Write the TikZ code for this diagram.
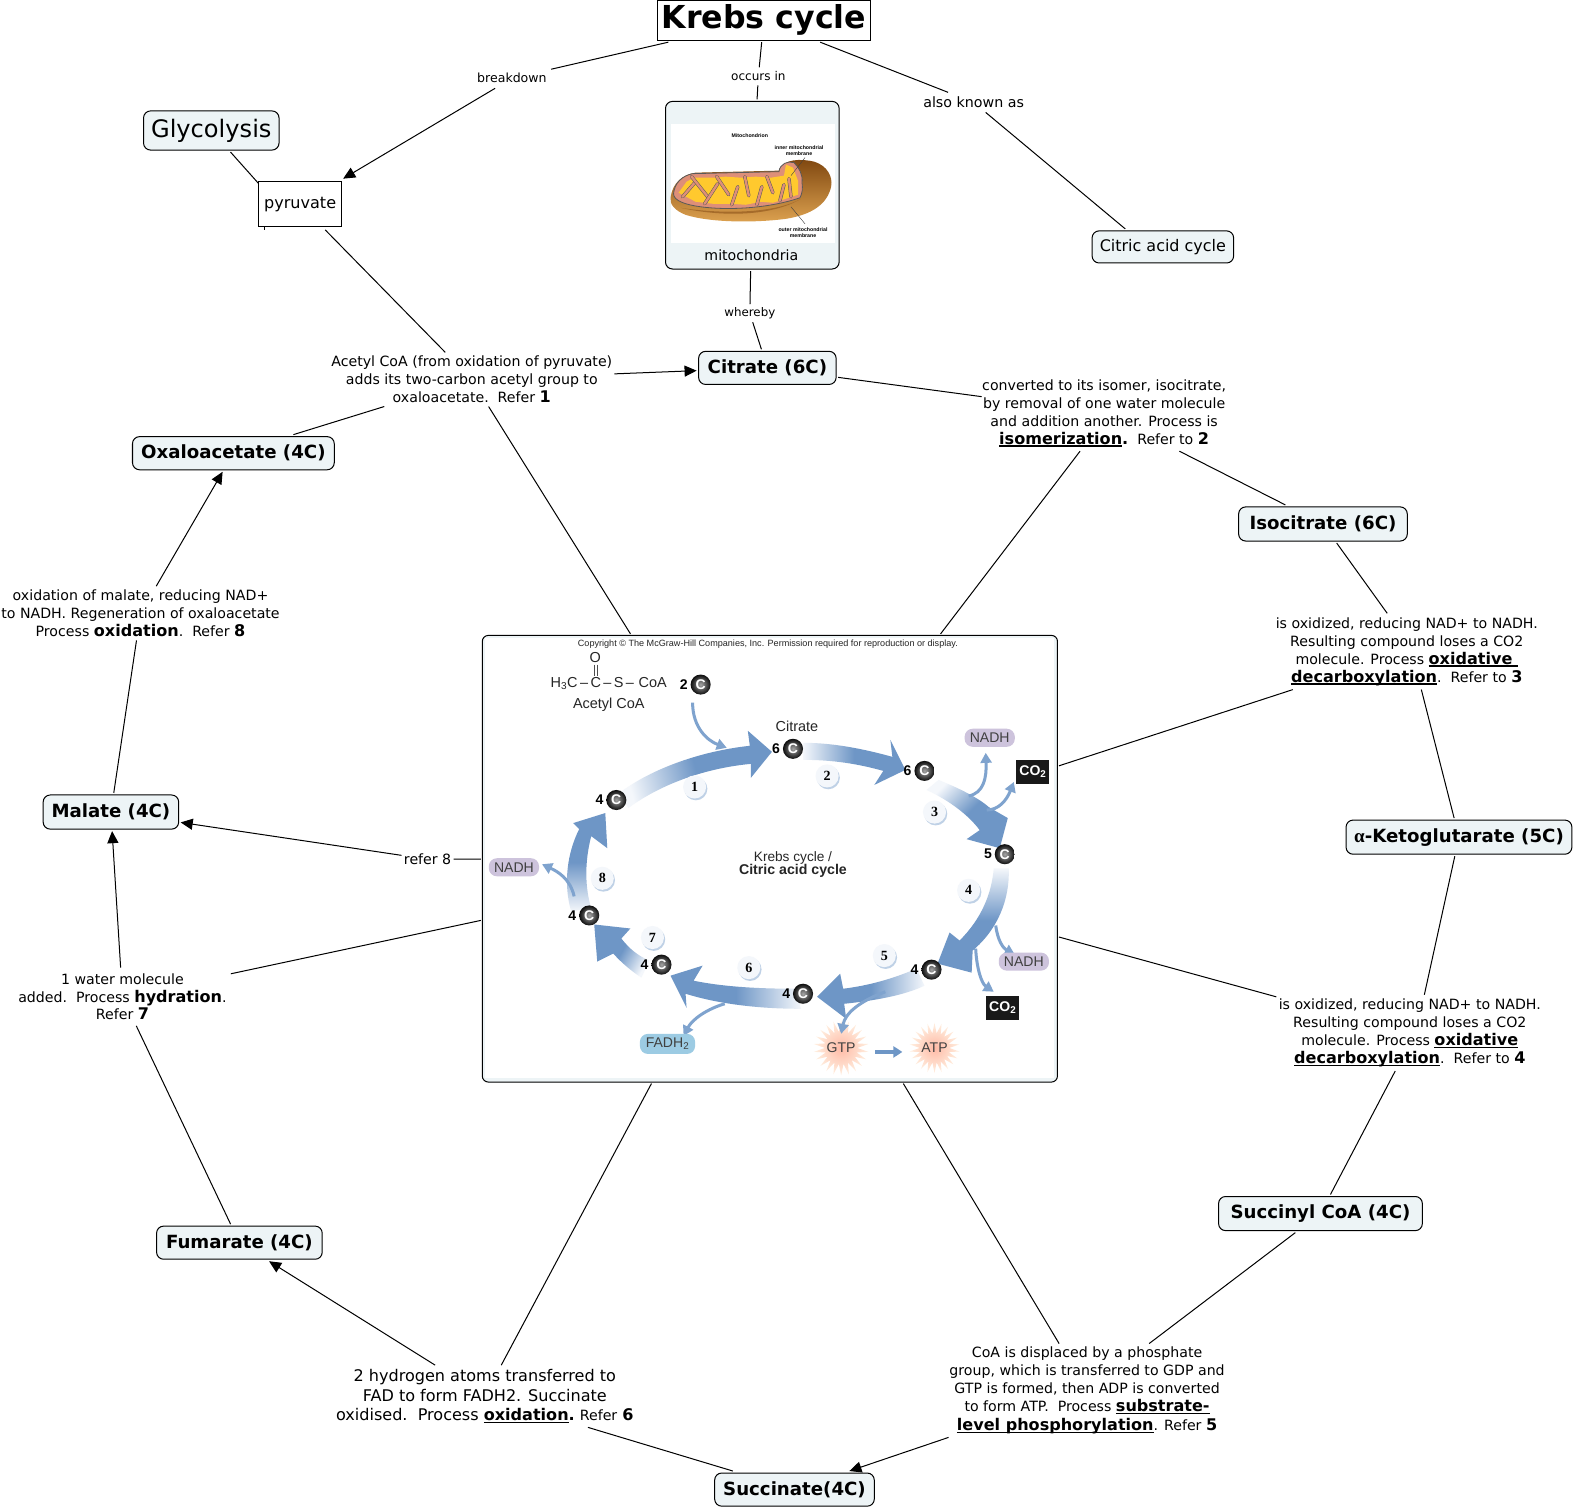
\documentclass[tikz,border=0pt]{standalone}
\usepackage{fontspec}
\setmainfont{DejaVu Sans}
\newfontfamily\arialf{Liberation Sans}
\newfontfamily\timesf{Liberation Serif}
\usetikzlibrary{arrows.meta,shapes.geometric,shadows}
\definecolor{boxfill}{HTML}{EDF4F6}
\definecolor{cycblue}{HTML}{6E96C6}
\definecolor{cycpale}{HTML}{F4F7FB}
\definecolor{thinblue}{HTML}{7FA3CE}
\definecolor{nadhc}{HTML}{CDC3DC}
\definecolor{fadhc}{HTML}{9CCBE3}
\definecolor{mitoY}{HTML}{FFC92E}
\definecolor{mitoS}{HTML}{DE8F78}
\definecolor{mitoB}{HTML}{7F4710}
\definecolor{mitoT}{HTML}{DDA250}
\pgfdeclarehorizontalshading{cycs}{100bp}{color(0bp)=(cycpale); color(25bp)=(cycpale); color(50bp)=(cycblue); color(100bp)=(cycblue)}
\newcommand\fs[2]{\fontsize{#1}{#2}\selectfont}
\newcommand\bt[1]{{\fs{16}{18}\bfseries #1}}
\newcommand\ulx[1]{\setbox0=\hbox{#1}\leavevmode\rlap{\rule[-2.6pt]{\wd0}{1.4pt}}\box0}
\tikzset{
  box/.style 2 args={draw=black,line width=1pt,fill=boxfill,rounded corners=7pt,inner sep=0pt,outer sep=2pt,minimum width=#1,minimum height=#2,font=\fs{18.1}{22}\bfseries},
  lbl/.style 2 args={inner sep=0pt,outer sep=0pt,minimum width=#1,minimum height=#2,align=center,font=\fs{14.1}{17.9}},
  conn/.style={draw=black,line width=1pt},
  arr/.style={draw=black,line width=1pt,-{Triangle[length=12pt,width=11pt]}},
  cball/.style={circle,inner color=gray!70,outer color=black!95,minimum size=20pt,inner sep=0pt,text=white,font=\arialf\fs{14}{14}\bfseries},
  stepc/.style={circle,fill=cycpale,minimum size=23pt,inner sep=0pt,font=\timesf\fs{14}{14}\bfseries,drop shadow={shadow xshift=1.2pt,shadow yshift=-1.8pt,fill=thinblue!50,opacity=1}},
  pill/.style={rounded corners=8pt,inner sep=0pt,minimum width=50pt,minimum height=18pt,font=\arialf\fs{14}{14},text=black!75},
  cotwo/.style={fill=black!90,text=white,inner sep=0pt,minimum width=33pt,minimum height=24pt,font=\arialf\fs{14}{14}\bfseries},
  burst/.style={star,star points=22,star point ratio=1.7,minimum size=50pt,inner sep=-3pt,inner color=orange!45!red!35,outer color=orange!12!white,font=\arialf\fs{14}{14},text=black!75},
  thinar/.style={draw=thinblue,line width=3pt,-{Triangle[length=10pt,width=11pt]}},
  imgtxt/.style={inner sep=0pt,font=\arialf\fs{14.4}{16},text=black!85},
  mitotxt/.style={inner sep=0pt,align=center,font=\arialf\fs{5.2}{6}\bfseries},
  cyc/.style={shading=cycs,shading angle=#1}
}
\begin{document}
\begin{tikzpicture}[x=1pt,y=-1pt]
\useasboundingbox[fill=white] (0,0) rectangle (1567.1,1502.4);
% ---- concept nodes
\node[draw=black,line width=1pt,fill=white,inner sep=0pt,outer sep=2pt,minimum width=212pt,minimum height=40pt,font=\fs{31.5}{34}\bfseries] (krebs) at (761,20) {Krebs cycle};
\node[lbl={78pt}{20pt},font=\fs{12.5}{15}] (breakdown) at (510,78) {breakdown};
\node[lbl={60pt}{18pt},font=\fs{12}{15}] (occurs) at (755.5,76) {occurs in};
\node[lbl={122pt}{20pt},font=\fs{14.2}{16}] (aka) at (970,102) {also known as};
\node[box={135pt}{39pt},font=\fs{24}{28}] (glyc) at (210.5,130) {Glycolysis};
\coordinate (glyend) at (264,190);
\draw[conn] (glyc) -- (glyend);
\coordinate (tickA) at (264,226);
\coordinate (tickB) at (264,229);
\draw[conn] (tickA) -- (tickB);
\node[draw=black,line width=1pt,fill=white,inner sep=0pt,outer sep=3pt,minimum width=82pt,minimum height=45pt,font=\fs{16}{18}] (pyr) at (299,203.5) {pyruvate};
\node[box={173pt}{167pt}] (mito) at (749.5,184.5) {};
\node[box={141pt}{32pt},font=\fs{15.9}{19}] (citric) at (1158.5,246) {Citric acid cycle};
\node[lbl={56pt}{18pt},font=\fs{11.8}{15}] (whereby) at (747,312) {whereby};
\node[box={137pt}{33pt}] (citrate) at (764.5,366.5) {Citrate (6C)};
\node[lbl={284pt}{54pt}] (acetyl) at (470,378) {Acetyl CoA (from oxidation of pyruvate)\\adds its two-carbon acetyl group to\\oxaloacetate.\ \ Refer \bt{1}};
\node[box={201pt}{33pt}] (oxal) at (232.5,451.5) {Oxaloacetate (4C)};
\node[lbl={244pt}{76pt}] (conv) at (1100,411.5) {converted to its isomer, isocitrate,\\by removal of one water molecule\\and addition another. Process is\\\bt{\ulx{isomerization}.}\ \ Refer to \bt{2}};
\node[box={168pt}{34pt}] (iso) at (1318,522) {Isocitrate (6C)};
\node[lbl={280pt}{54pt}] (oxmal) at (140,611) {oxidation of malate, reducing NAD+\\to NADH. Regeneration of oxaloacetate\\Process \bt{oxidation}.\ \ Refer \bt{8}};
\node[lbl={266pt}{76pt}] (isox) at (1401.5,649) {is oxidized, reducing NAD+ to NADH.\\Resulting compound loses a CO2\\molecule. Process \bt{\ulx{oxidative\ }}\\\bt{\ulx{decarboxylation}}.\ \ Refer to \bt{3}};
\node[box={225pt}{34pt}] (akg) at (1453.5,834) {{\timesf\fs{19}{22}\bfseries α}-Ketoglutarate (5C)};
\node[box={135pt}{34pt}] (malate) at (110.5,809) {Malate (4C)};
\node[lbl={52pt}{18pt}] (refer) at (426,856) {refer 8};
\node[lbl={216pt}{58pt}] (water) at (122,993) {1 water molecule\\added.\ \ Process \bt{hydration}.\\Refer \bt{7}};
\node[lbl={266pt}{76pt}] (isox2) at (1404.5,1029) {is oxidized, reducing NAD+ to NADH.\\Resulting compound loses a CO2\\molecule. Process \bt{\ulx{oxidative}}\\\bt{\ulx{decarboxylation}}.\ \ Refer to \bt{4}};
\node[box={203pt}{34pt}] (succoa) at (1315.5,1209) {Succinyl CoA (4C)};
\node[box={165pt}{33pt}] (fum) at (238.5,1238) {Fumarate (4C)};
\node[lbl={300pt}{62pt},font=\fs{16}{19.5}] (hyd) at (483,1391) {2 hydrogen atoms transferred to\\FAD to form FADH2. Succinate\\oxidised.\ \ Process \bt{\ulx{oxidation}.}\ {\fs{14.1}{16}Refer} \bt{6}};
\node[lbl={276pt}{94pt}] (coa) at (1083,1385.5) {CoA is displaced by a phosphate\\group, which is transferred to GDP and\\GTP is formed, then ADP is converted\\to form ATP.\ \ Process \bt{\ulx{substrate-}}\\[1pt]\bt{\ulx{level phosphorylation}}. Refer \bt{5}};
\node[box={159pt}{33pt}] (succ) at (791.5,1484) {Succinate(4C)};
% ---- figure panel
\node[draw=black,line width=1pt,fill=boxfill,rounded corners=6pt,inner sep=0pt,outer sep=1.5pt,minimum width=573pt,minimum height=445pt] (fig) at (767,855.5) {};
\fill[white] (483,636) rectangle (1050,1074);
% ---- connectors
\draw[conn] (krebs) -- (breakdown);
\draw[arr] (breakdown) -- (pyr);
\draw[conn] (krebs) -- (occurs);
\draw[conn] (occurs) -- (mito);
\draw[conn] (krebs) -- (aka);
\draw[conn] (aka) -- ([xshift=-37.5pt]citric.north);
\draw[conn] (mito) -- (whereby);
\draw[conn] (whereby) -- (citrate);
\draw[conn] (pyr) -- (acetyl);
\draw[arr] (acetyl) -- (citrate);
\draw[conn] (oxal) -- (acetyl);
\draw[conn] (fig) -- (acetyl);
\draw[conn] (citrate) -- (conv);
\draw[conn] (conv) -- (iso);
\draw[conn] (fig) -- ([xshift=-24pt]conv.south);
\draw[conn] (iso) -- ([xshift=-19.5pt]isox.north);
\draw[conn] ([xshift=14.5pt]isox.south) -- (akg);
\draw[conn] (fig) -- ([xshift=-113.5pt]isox.south);
\draw[conn] (akg) -- ([xshift=14.5pt]isox2.north);
\draw[conn] ([xshift=-14.5pt]isox2.south) -- (succoa);
\draw[conn] (fig) -- (isox2);
\draw[conn] (succoa) -- (coa);
\draw[arr] (coa) -- (succ);
\draw[conn] (fig) -- (coa);
\draw[conn] (succ) -- (hyd);
\draw[arr] (hyd) -- (fum);
\draw[conn] (fig) -- (hyd);
\draw[conn] (fum) -- (water);
\draw[arr] (water) -- (malate);
\draw[conn] (fig) -- (water);
\draw[conn] (fig) -- (refer);
\draw[arr] (refer) -- (malate);
\draw[conn] (malate) -- (oxmal);
\draw[arr] (oxmal) -- (oxal);
% ---- mitochondrion picture
\fill[white] (668,124) rectangle (832,242);
\begin{scope}[xshift=-2pt]
\shade[top color=mitoB,bottom color=mitoT] (670,197) .. controls (672,182) and (682,174) .. (695,172) -- (778,170) .. controls (782,158) and (800,158) .. (813,161) .. controls (826,165) and (832,176) .. (830,186) .. controls (826,204) and (810,214) .. (785,218) .. controls (755,222) and (710,222) .. (685,214) .. controls (675,210) and (669,204) .. (670,197) -- cycle;
\fill[mitoB!60!mitoT] (680,207) .. controls (720,216) and (770,216) .. (800,198) .. controls (775,212) and (725,214) .. (680,207) -- cycle;
\filldraw[fill=mitoS,draw=gray!70!black,line width=0.8pt] (673,193) .. controls (674,182) and (682,175) .. (692,173) -- (778,171) .. controls (779,163) and (787,160) .. (793,162) .. controls (798,167) and (802,174) .. (801,182) .. controls (802,188) and (801,193) .. (799,197) .. controls (770,207) and (730,210) .. (700,206) .. controls (685,204) and (673,200) .. (673,193) -- cycle;
\fill[mitoY] (678,192) -- (686,181) -- (694,177) -- (712,177) -- (725,176) -- (740,177) -- (755,176) -- (770,177) -- (783,175) -- (785,164) -- (792,167) -- (797,180) -- (797,194) -- (785,198) -- (772,202) -- (760,201) -- (745,204) -- (730,203) -- (712,203) -- (695,201) -- cycle;
\foreach \a/\b/\c/\d in {682/196/695/181,691/176/707/196,704/203/717/183,716/176/728/194,731/204/737/186,744/176/748/195,756/204/761/186,766/176/772/192,779/200/783/184,790/196/788/178}{
  \draw[draw=gray!70!black,line width=3.4pt,line cap=round] (\a,\b) -- (\c,\d);
  \draw[draw=mitoS,line width=2.4pt,line cap=round] (\a,\b) -- (\c,\d);
}
\end{scope}
\draw[gray!50!black,line width=0.4pt] (788,175) -- (802,157);
\draw[gray!50!black,line width=0.4pt] (788,206) -- (802,223);
\node[mitotxt] (mt1) at (747,135.5) {Mitochondrion};
\node[mitotxt] (mt2) at (796,150) {inner mitochondrial\\membrane};
\node[mitotxt] (mt3) at (800,232) {outer mitochondrial\\membrane};
\node[inner sep=0pt,font=\fs{14.1}{17}] (mitolab) at (748.5,254.5) {mitochondria};
% ---- cycle figure: thick tapered arrows
\shade[cyc=15]
 (617,790) .. controls (650,765) and (700,748) .. (747,743) -- (745,728) -- (769,749) -- (748,775) -- (748,761) .. controls (705,765) and (660,780) .. (626,805) -- cycle;
\shade[cyc=0]
 (800,740) .. controls (830,740) and (860,746) .. (889,754) -- (887,737) -- (902,767) -- (871,782) -- (880,768) .. controls (855,761) and (830,757) .. (800,757) -- cycle;
\shade[cyc=-45]
 (935,777) .. controls (955,785) and (975,795) .. (985,804) -- (1004,815) -- (996,845) -- (963,836) -- (976,827) .. controls (965,812) and (945,797) .. (923,787) -- cycle;
\shade[cyc=-90]
 (1005,865) .. controls (1006,895) and (995,925) .. (969,947) -- (968,969) -- (934,960) -- (946,929) -- (956,937) .. controls (978,915) and (988,890) .. (990,865) -- cycle;
\shade[cyc=180]
 (913,965) .. controls (890,975) and (865,982) .. (840,985) -- (837,970) -- (814,993) -- (843,1015) -- (841,1000) .. controls (870,997) and (900,992) .. (921,982) -- cycle;
\shade[cyc=180]
 (792,985) .. controls (755,985) and (720,983) .. (691,977) -- (700,962) -- (668,972) -- (684,1004) -- (683,990) .. controls (715,1000) and (755,1005) .. (798,1005) -- cycle;
\shade[cyc=150]
 (647,957) .. controls (635,952) and (627,945) .. (619,935) -- (628,925) -- (592,921) -- (595,958) -- (611,950) .. controls (620,960) and (630,968) .. (639,974) -- cycle;
\shade[cyc=90]
 (589,905) .. controls (583,885) and (582,860) .. (589,833) -- (605,845) -- (603,810) -- (571,820) -- (577,826) .. controls (565,850) and (561,880) .. (569,908) -- cycle;
% thin branches
\coordinate (ac1) at (690,700);\coordinate (ac2) at (724,745);
\draw[thinar] (ac1) .. controls (690,725) and (705,738) .. (ac2);
\coordinate (na1) at (965,793);\coordinate (na2) at (982,750);
\draw[thinar] (na1) .. controls (980,790) and (983,775) .. (na2);
\coordinate (ca1) at (983,807);\coordinate (ca2) at (1010,779);
\draw[thinar] (ca1) .. controls (995,807) and (1003,797) .. (ca2);
\coordinate (nb1) at (992,922);\coordinate (nb2) at (1011,951);
\draw[thinar] (nb1) .. controls (994,938) and (1000,945) .. (nb2);
\coordinate (cb1) at (972,945);\coordinate (cb2) at (990,988);
\draw[thinar] (cb1) .. controls (973,965) and (978,980) .. (cb2);
\coordinate (nc1) at (572,893);\coordinate (nc2) at (540,861);
\draw[thinar] (nc1) .. controls (568,875) and (555,868) .. (nc2);
\coordinate (fa1) at (722,1000);\coordinate (fa2) at (681,1032);
\draw[thinar] (fa1) .. controls (705,1005) and (690,1015) .. (fa2);
\coordinate (gtA) at (872,1048);\coordinate (gtB) at (899,1048);
\draw[draw=cycblue,line width=3.6pt,-{Triangle[length=9pt,width=11pt]}] (gtA) -- (gtB);
% carbon balls
\foreach \n/\x/\y/\v in {b2/698/682/2,b6a/790/746/6,b6b/921/768/6,b5/1001/851/5,b4a/928/966/4,b4b/800/990/4,b4c/659/961/4,b4d/587/912/4,b4e/614/797/4}{
  \node[cball,label={[inner sep=2.5pt,text=black,font=\arialf\fs{14}{14}\bfseries]left:\v}] (\n) at (\x,\y) {C};
}
% numbered steps
\foreach \n/\x/\y/\v in {s1/692/784/1,s2/824/773/2,s3/931/809/3,s4/965/887/4,s5/881/952/5,s6/746/964/6,s7/650/934/7,s8/600/875/8}{
  \node[stepc] (\n) at (\x,\y) {\v};
}
% pills and boxes
\node[pill,fill=nadhc] (nadh1) at (986,735) {NADH};
\node[pill,fill=nadhc] (nadh2) at (512,864) {NADH};
\node[pill,fill=nadhc] (nadh3) at (1020,958) {NADH};
\node[pill,fill=fadhc,minimum width=55pt,minimum height=20pt] (fadh) at (665,1040) {FADH\textsubscript{2}};
\node[cotwo] (co1) at (1029,769) {CO\textsubscript{2}};
\node[cotwo] (co2) at (999,1004) {CO\textsubscript{2}};
\node[burst] (gtp) at (838,1044) {GTP};
\node[burst] (atp) at (931,1044) {ATP};
\coordinate (gt1) at (882,988);\coordinate (gt2) at (838,1030);
\draw[thinar] (gt1) .. controls (855,998) and (842,1010) .. (gt2);
% figure texts
\node[inner sep=0pt,font=\arialf\fs{9.05}{11},text=black!85] (copy) at (765,642) {Copyright © The McGraw-Hill Companies, Inc. Permission required for reproduction or display.};
\node[imgtxt] (oatom) at (593,655) {O};
\coordinate (dbA) at (592,662);\coordinate (dbB) at (592,673);\coordinate (dbC) at (595,662);\coordinate (dbD) at (595,673);
\draw[black!70,line width=0.7pt] (dbA) -- (dbB) (dbC) -- (dbD);
\node[imgtxt] (chem) at (606.5,681) {H\textsubscript{3}C\,–\,C\,–\,S\,–\,\,CoA};
\node[imgtxt] (aclab) at (606.5,702) {Acetyl CoA};
\node[imgtxt] (citlab) at (794,724) {Citrate};
\node[imgtxt,font=\arialf\fs{13.6}{14}] (kc1) at (790,854.5) {Krebs cycle /};
\node[imgtxt,font=\arialf\fs{14.1}{14}\bfseries] (kc2) at (790,867.5) {Citric acid cycle};
\end{tikzpicture}
\end{document}
